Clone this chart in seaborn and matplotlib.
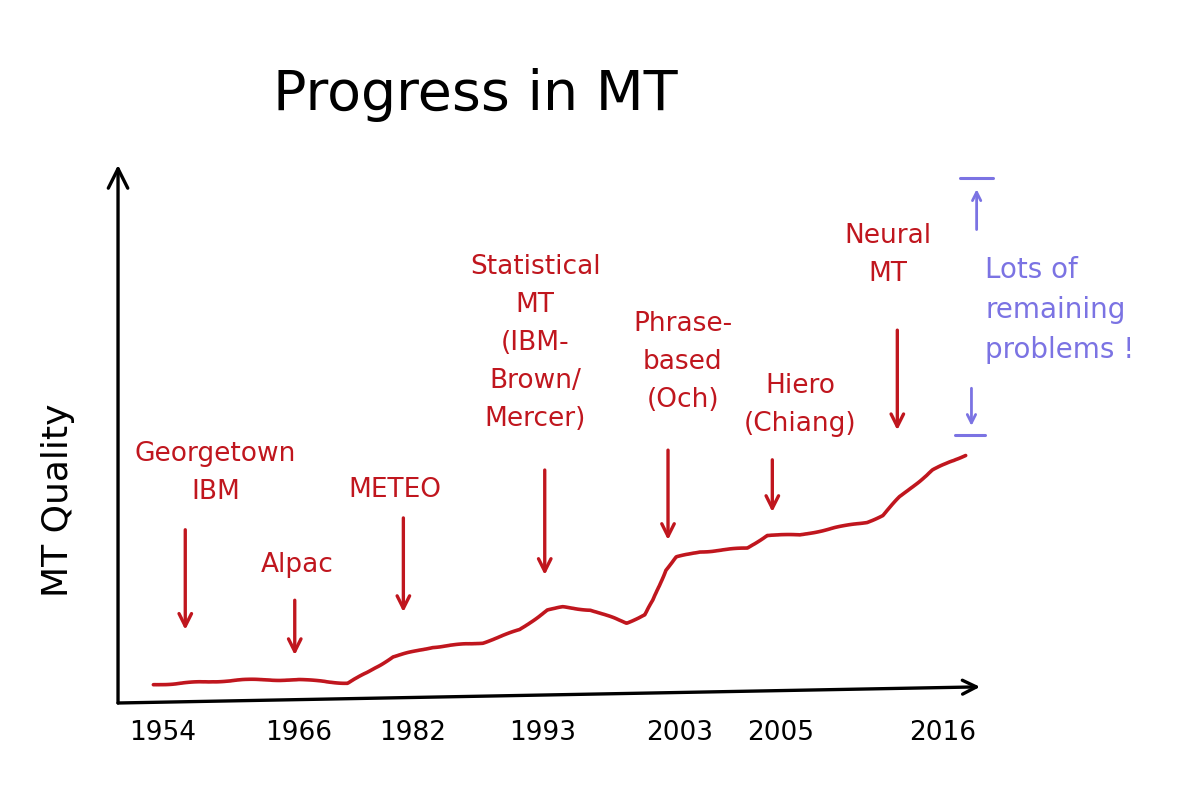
import numpy as np
import pandas as pd
import matplotlib
matplotlib.use("Agg")
import matplotlib.pyplot as plt
import seaborn as sns

# ---------------- data ----------------
# timeline position (0-100 along the drawn x-axis) and MT quality (0-100)
curve_x = [4.1, 14.5, 21.1, 26.6, 28.9, 31.9, 36.5, 42.3, 46.6, 49.8, 51.6, 54.8,
           59.0, 61.1, 62.1, 63.5, 64.8, 67.5, 73.0, 75.3, 79.1, 82.9, 86.9, 88.7,
           90.7, 94.5, 98.3]
curve_y = [3.4, 4.3, 4.3, 3.7, 5.6, 8.6, 10.4, 11.2, 13.6, 17.3, 17.8, 17.3,
           14.9, 16.4, 19.1, 24.7, 27.1, 28.1, 28.8, 31.2, 31.2, 32.5, 33.6, 34.9,
           38.3, 43.3, 46.1]

tick_labels = ["1954", "1966", "1982", "1993", "2003", "2005", "2016"]
tick_pos = [5.2, 20.9, 34.2, 49.2, 65.2, 76.9, 95.6]

milestones = ["Georgetown\nIBM", "Alpac", "METEO",
              "Statistical\nMT\n(IBM-\nBrown/\nMercer)",
              "Phrase-\nbased\n(Och)", "Hiero\n(Chiang)", "Neural\nMT"]
label_x = [11.3, 20.8, 32.1, 48.4, 65.5, 79.1, 89.3]
label_y = [42.8, 25.7, 39.6, 67.0, 63.4, 55.4, 83.3]
arrow_x = [7.8, 20.5, 33.1, 49.5, 63.8, 75.9, 90.4]
arrow_top = [32.2, 19.1, 34.4, 43.3, 47.0, 45.2, 69.3]
arrow_tip = [13.6, 8.9, 16.9, 23.8, 30.3, 35.5, 50.7]

remaining_text = "Lots of\nremaining\nproblems !"

RED = "#c0161e"
BLUE = "#7b73e3"

# ---------------- style ----------------
sns.set_style("white")
plt.rcParams["font.family"] = ["DejaVu Sans"]
plt.rcParams["text.color"] = "black"
plt.rcParams["axes.labelcolor"] = "black"
plt.rcParams["xtick.color"] = "black"

fig = plt.figure(figsize=(11.91, 8.06), dpi=100)
ax = fig.add_axes([0.0991, 0.1278, 0.7238, 0.6675])
ax.set_xlim(0, 100)
ax.set_ylim(0, 100)

df = pd.DataFrame({"pos": curve_x, "quality": curve_y})
sns.lineplot(data=df, x="pos", y="quality", ax=ax, color=RED, linewidth=2.6,
             sort=False)
for ln in ax.lines:
    ln.set_sketch_params(scale=0.6, length=60, randomness=2)

for s in ax.spines.values():
    s.set_visible(False)

# hand-drawn style axes with open arrowheads
ax.annotate("", xy=(0, 1.0), xytext=(0, 0), xycoords="axes fraction",
            arrowprops=dict(arrowstyle="->,head_length=1.4,head_width=0.7",
                            color="black", lw=2.4, shrinkA=0, shrinkB=0),
            annotation_clip=False)
ax.annotate("", xy=(1.0, 0.03), xytext=(0, 0), xycoords="axes fraction",
            arrowprops=dict(arrowstyle="->,head_length=1.0,head_width=0.5",
                            color="black", lw=2.4, shrinkA=0, shrinkB=0),
            annotation_clip=False)

ax.set_xticks(tick_pos)
ax.set_xticklabels(tick_labels, fontsize=19, color="black")
ax.tick_params(axis="x", length=0, pad=12)
ax.set_yticks([])
ax.set_xlabel("")
ax.set_ylabel("MT Quality", fontsize=26, color="black")
ax.yaxis.set_label_coords(-0.050, 0.377)

fig.text(0.399, 0.882, "Progress in MT", fontsize=40, ha="center", va="center",
         color="black")

# milestone annotations
for txt, lx, ly, axx, at, ap in zip(milestones, label_x, label_y, arrow_x,
                                    arrow_top, arrow_tip):
    ax.text(lx, ly, txt, color=RED, fontsize=19, ha="center", va="center",
            linespacing=1.6)
    ax.annotate("", xy=(axx, ap), xytext=(axx, at),
                arrowprops=dict(arrowstyle="->,head_length=0.9,head_width=0.45",
                                color=RED, lw=2.4, shrinkA=0, shrinkB=0))

# remaining-problems bracket
ax.plot([97.7, 101.5], [97.6, 97.6], color=BLUE, lw=2.2, clip_on=False)
ax.plot([97.1, 100.6], [49.8, 49.8], color=BLUE, lw=2.2, clip_on=False)
ax.annotate("", xy=(99.6, 95.5), xytext=(99.6, 88.0),
            arrowprops=dict(arrowstyle="->,head_length=0.6,head_width=0.3",
                            color=BLUE, lw=2.0, shrinkA=0, shrinkB=0),
            annotation_clip=False)
ax.annotate("", xy=(99.0, 51.5), xytext=(99.0, 58.5),
            arrowprops=dict(arrowstyle="->,head_length=0.6,head_width=0.3",
                            color=BLUE, lw=2.0, shrinkA=0, shrinkB=0),
            annotation_clip=False)
ax.text(100.6, 73.0, remaining_text, color=BLUE, fontsize=20, ha="left",
        va="center", linespacing=1.55, clip_on=False)

fig.savefig("out.png", dpi=100, facecolor="white")
